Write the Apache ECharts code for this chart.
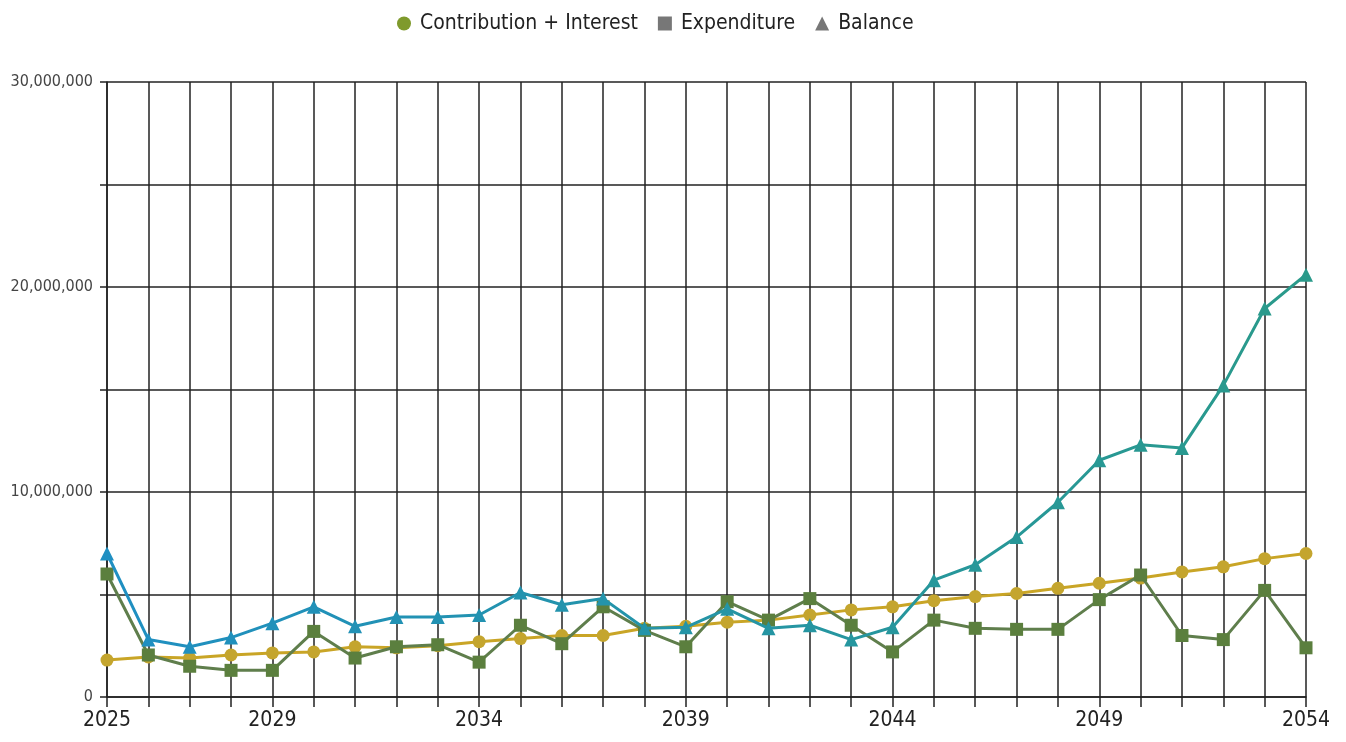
<!DOCTYPE html>
<html>
<head>
<meta charset="utf-8">
<script src="https://cdn.jsdelivr.net/npm/echarts@6/dist/echarts.min.js"></script>
<style>
html,body{margin:0;padding:0;background:#fff;}
#chart{width:1346px;height:742px;}
</style>
</head>
<body>
<div id="chart"></div>
<script>
const years = ['2025','2026','2027','2028','2029','2030','2031','2032','2033','2034','2035','2036','2037','2038','2039','2040','2041','2042','2043','2044','2045','2046','2047','2048','2049','2050','2051','2052','2053','2054'];
const contribution = [1800000,1950000,1900000,2050000,2150000,2200000,2450000,2400000,2500000,2700000,2850000,3000000,3000000,3350000,3450000,3650000,3750000,4000000,4250000,4400000,4700000,4900000,5050000,5300000,5550000,5800000,6100000,6350000,6750000,7000000];
const expenditure = [6000000,2050000,1500000,1300000,1300000,3200000,1900000,2450000,2550000,1700000,3500000,2600000,4400000,3250000,2450000,4650000,3750000,4800000,3500000,2200000,3750000,3350000,3300000,3300000,4750000,5950000,3000000,2800000,5200000,2400000];
const balance = [7000000,2800000,2450000,2900000,3600000,4400000,3450000,3900000,3900000,4000000,5100000,4500000,4800000,3350000,3400000,4300000,3350000,3500000,2800000,3400000,5700000,6450000,7800000,9500000,11550000,12300000,12150000,15200000,18950000,20600000];
const yTicks = [0,10000000,20000000,30000000];

const font = '"Liberation Sans Narrow","DejaVu Sans Condensed","Liberation Sans",Arial,sans-serif';
const chart = echarts.init(document.getElementById('chart'));

function mix(a,b,t){
  const pa=[parseInt(a.slice(1,3),16),parseInt(a.slice(3,5),16),parseInt(a.slice(5,7),16)];
  const pb=[parseInt(b.slice(1,3),16),parseInt(b.slice(3,5),16),parseInt(b.slice(5,7),16)];
  return 'rgb('+pa.map((v,i)=>Math.round(v+(pb[i]-v)*t)).join(',')+')';
}

chart.setOption({
  animation:false,
  backgroundColor:'#fff',
  legend:{
    top:8,
    left:392,
    itemWidth:14,
    itemHeight:14,
    itemGap:20,
    textStyle:{fontFamily:font,fontSize:21,color:'#222',padding:[0,0,0,4]},
    data:[
      {name:'Contribution + Interest',icon:'circle',itemStyle:{color:'#7f9a2c'}},
      {name:'Expenditure',icon:'rect',itemStyle:{color:'#777777'}},
      {name:'Balance',icon:'triangle',itemStyle:{color:'#777777'}}
    ]
  },
  grid:{left:107,right:40,top:82,bottom:45,containLabel:false},
  xAxis:{
    type:'category',
    data:years,
    boundaryGap:false,
    axisLine:{lineStyle:{color:'#222',width:1.5}},
    axisTick:{show:true,interval:0,length:10,lineStyle:{color:'#222',width:1.5}},
    axisLabel:{
      interval:function(idx){return idx===0 || (years.length-1-idx)%5===0;},
      fontFamily:font,fontSize:21,color:'#222',margin:13
    },
    splitLine:{show:true,interval:0,lineStyle:{color:'#222',width:1.5}}
  },
  yAxis:{
    type:'value',
    min:0,max:30000000,interval:5000000,
    axisLine:{show:true,lineStyle:{color:'#222',width:1.5}},
    axisTick:{show:true,length:7,lineStyle:{color:'#222',width:1.5}},
    axisLabel:{
      fontFamily:font,fontSize:16,color:'#444',margin:14,
      formatter:function(v){return yTicks.indexOf(v)>=0 ? v.toLocaleString('en-US') : '';}
    },
    splitLine:{show:true,lineStyle:{color:'#222',width:1.5}}
  },
  series:[
    {
      name:'Contribution + Interest',type:'line',data:contribution,
      symbol:'circle',symbolSize:13,
      lineStyle:{color:'#c9a526',width:3},
      itemStyle:{color:'#c4a52e'},
      z:3
    },
    {
      name:'Expenditure',type:'line',data:expenditure,
      symbol:'rect',symbolSize:13,
      lineStyle:{color:'#5f7e4c',width:3},
      itemStyle:{color:'#5b7f3e'},
      z:4
    },
    {
      name:'Balance',type:'line',data:balance,
      symbol:'triangle',symbolSize:14,
      lineStyle:{width:3,color:{type:'linear',x:0,y:0,x2:1,y2:0,colorStops:[{offset:0,color:'#1f8fc2'},{offset:1,color:'#2a9a8a'}]}},
      itemStyle:{color:function(p){return mix('#1f8fc2','#2a9a8a',p.dataIndex/(years.length-1));}},
      z:5
    }
  ]
});
</script>
</body>
</html>
